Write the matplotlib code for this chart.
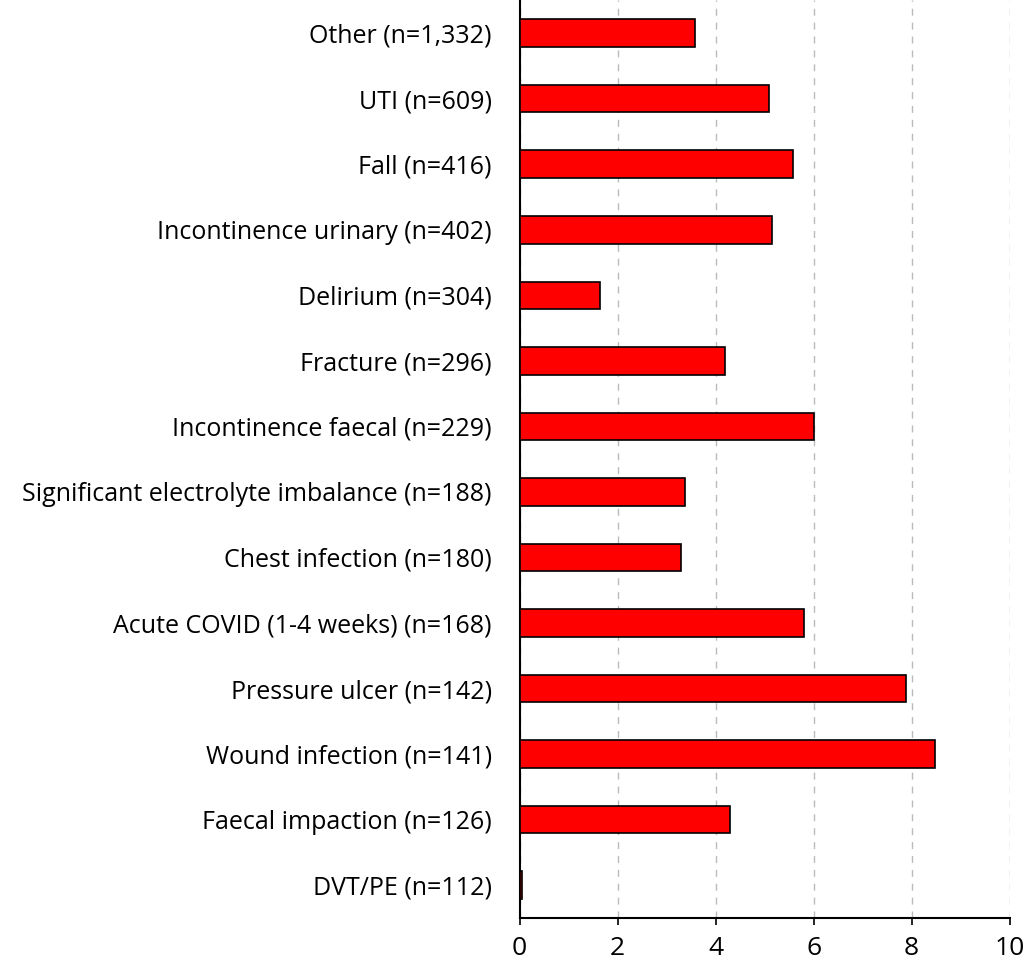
import numpy as np
import matplotlib.pyplot as plt

plt.rcParams['font.family'] = ['Open Sans', 'DejaVu Sans']

# categories (top to bottom as shown) and values
labels = ["Other (n=1,332)", "UTI (n=609)", "Fall (n=416)",
          "Incontinence urinary (n=402)", "Delirium (n=304)",
          "Fracture (n=296)", "Incontinence faecal (n=229)",
          "Significant electrolyte imbalance (n=188)",
          "Chest infection (n=180)", "Acute COVID (1-4 weeks) (n=168)",
          "Pressure ulcer (n=142)", "Wound infection (n=141)",
          "Faecal impaction (n=126)", "DVT/PE (n=112)"]
values = [3.57, 5.08, 5.57, 5.16, 1.63, 4.2, 6.0, 3.37, 3.29, 5.8,
          7.88, 8.47, 4.29, 0.04]
xticks = [0, 2, 4, 6, 8, 10]

fig = plt.figure(figsize=(10.27, 9.72), dpi=100)
ax = fig.add_axes([0.506, 0.0556, 0.477, 0.944])

y = np.arange(len(labels))
ax.barh(y, values, height=0.42, color='#ff0000', edgecolor='black', linewidth=1.2, zorder=3)
ax.set_yticks(y)
ax.set_yticklabels(labels, fontsize=18)
ax.set_ylim(len(labels) - 0.5, -0.5)
ax.set_xlim(0, 10)
ax.set_xticks(xticks)
ax.set_xticklabels([str(t) for t in xticks], fontsize=19)

ax.tick_params(axis='y', length=0, pad=20)
ax.tick_params(axis='x', length=5, width=1.2, pad=8)
ax.xaxis.grid(True, linestyle=(0, (5, 5)), color='#bbbbbb', linewidth=1, zorder=0)
for s in ['top', 'right']:
    ax.spines[s].set_visible(False)
ax.spines['left'].set_linewidth(1.5)
ax.spines['bottom'].set_linewidth(1.5)

fig.savefig('out.png', dpi=100)
